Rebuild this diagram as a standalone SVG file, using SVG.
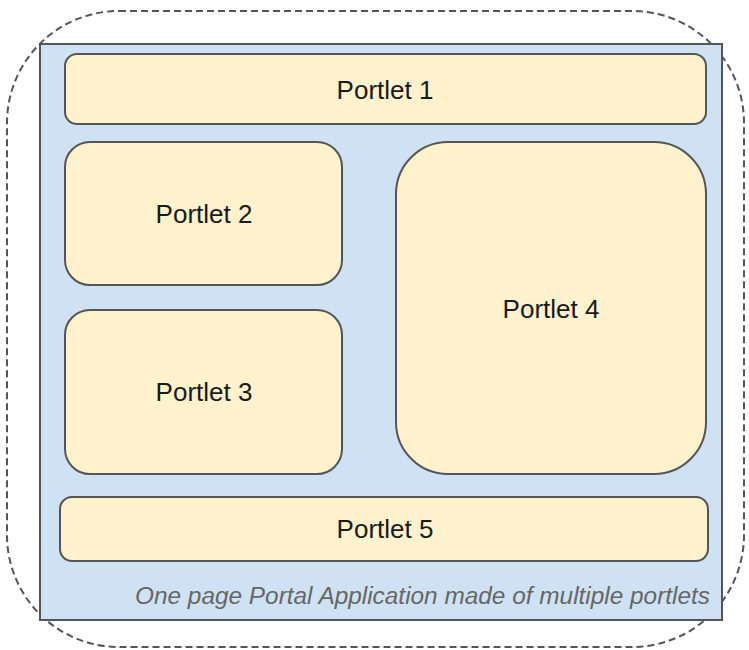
<svg xmlns="http://www.w3.org/2000/svg" width="749" height="650" viewBox="0 0 749 650">
<style>
.p{fill:#fff2cc;stroke:#555;stroke-width:2}
.t{font-family:"Liberation Sans",Arial,sans-serif;font-size:26px;fill:#1a1a1a;text-anchor:middle}
</style>
<rect x="0" y="0" width="749" height="650" fill="#fff"/>
<rect id="outer" x="7" y="11" width="737" height="636" rx="112" fill="none" stroke="#555" stroke-width="2" stroke-dasharray="7,4"/>
<g id="page">
<rect x="40" y="44" width="682" height="576" fill="#cfe2f3" stroke="#555" stroke-width="2"/>
<text x="710" y="604" font-family="'Liberation Sans',Arial,sans-serif" font-size="24.4" font-style="italic" fill="#666" text-anchor="end" textLength="575" lengthAdjust="spacingAndGlyphs">One page Portal Application made of multiple portlets</text>
</g>
<g id="portlet1"><rect class="p" x="65" y="54" width="641" height="70" rx="12"/><text class="t" x="385" y="99">Portlet 1</text></g>
<g id="portlet2"><rect class="p" x="65" y="142" width="277" height="143" rx="25"/><text class="t" x="204" y="223">Portlet 2</text></g>
<g id="portlet3"><rect class="p" x="65" y="310" width="277" height="164" rx="25"/><text class="t" x="204" y="401">Portlet 3</text></g>
<g id="portlet4"><rect class="p" x="396" y="142" width="310" height="332" rx="52"/><text class="t" x="551" y="318">Portlet 4</text></g>
<g id="portlet5"><rect class="p" x="60" y="497" width="648" height="64" rx="12"/><text class="t" x="385" y="538">Portlet 5</text></g>
<g id="connectors"></g>
</svg>
